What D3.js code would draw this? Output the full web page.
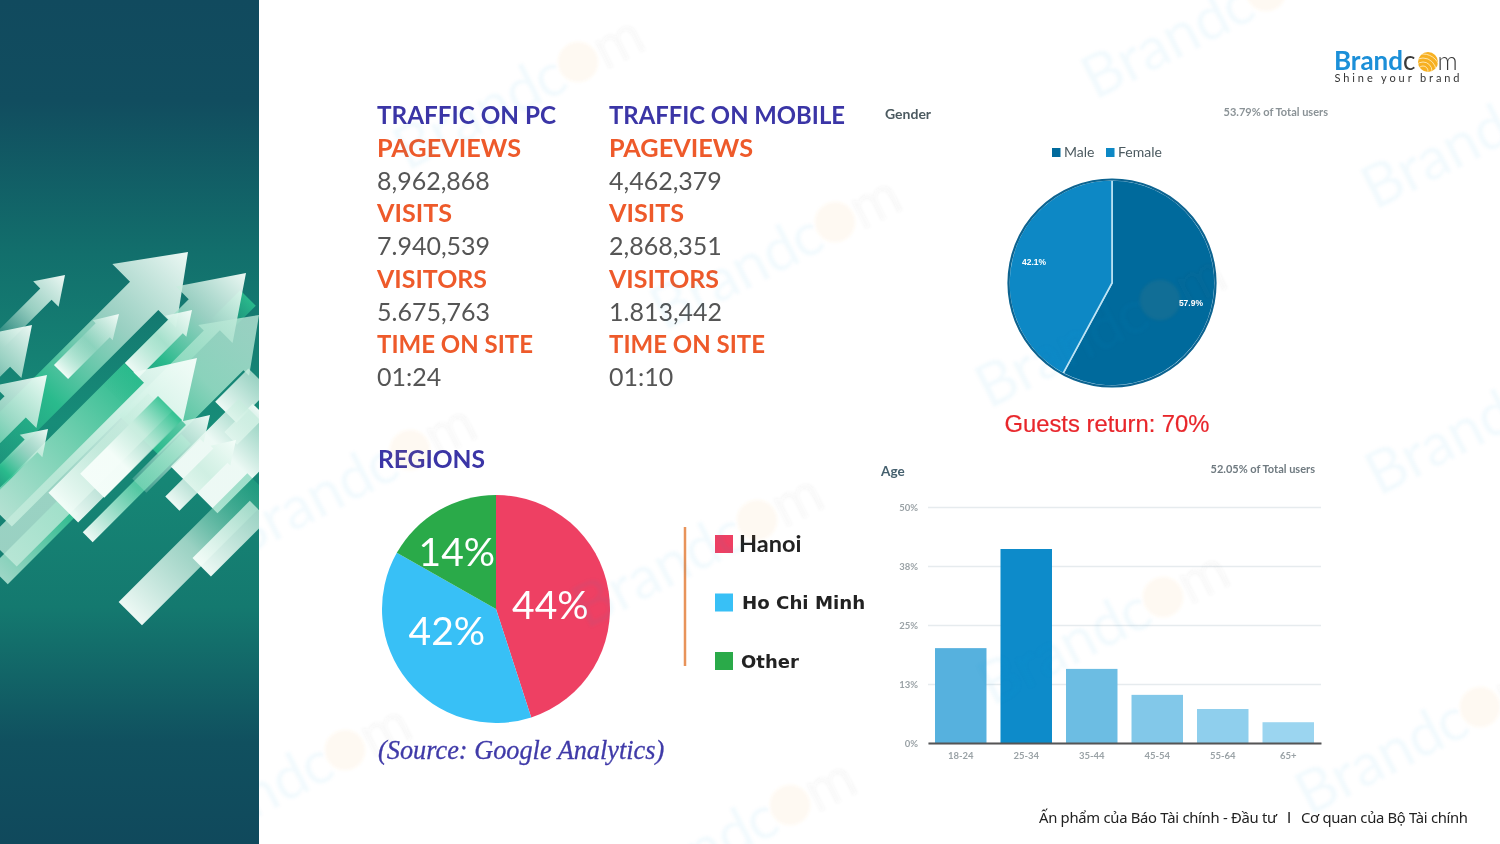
<!DOCTYPE html>
<html>
<head>
<meta charset="utf-8">
<script src="https://cdn.jsdelivr.net/npm/d3@7"></script>
<style>
  html, body { margin: 0; padding: 0; background: #fff; }
  svg { display: block; }
</style>
</head>
<body>
<div id="chart"></div>
<script>
// traffic table
var trafficTitles = ["TRAFFIC ON PC", "TRAFFIC ON MOBILE"]
var trafficLabels = ["PAGEVIEWS", "VISITS", "VISITORS", "TIME ON SITE"]
var trafficPc = ["8,962,868", "7.940,539", "5.675,763", "01:24"]
var trafficMobile = ["4,462,379", "2,868,351", "1.813,442", "01:10"]

// regions pie: the slices as drawn are not quite what their labels say
var regionNames = ["Hanoi", "Ho Chi Minh", "Other"]
var regionShares = [45, 38.2, 16.8]
var regionLabels = ["44%", "42%", "14%"]
var regionColors = ["#ee4064", "#38c0f6", "#2aaa4a"]

// gender pie
var genderNames = ["Male", "Female"]
var genderValues = [57.9, 42.1]
var genderColors = ["#066a9c", "#0b88c5"]

// age bars
var ageLabels = ["18-24", "25-34", "35-44", "45-54", "55-64", "65+"]
var ageValues = [20.1, 41.1, 15.7, 10.2, 7.2, 4.4]
var ageColors = ["#57b1de", "#0a8bca", "#6cbde3", "#82c8e9", "#8fcfed", "#9bd5f0"]
var ageTicks = [0, 12.5, 25, 37.5, 50]
var ageTickLabels = ["0%", "13%", "25%", "38%", "50%"]

var width = 1500
var height = 844

var svg = d3.select("#chart").append("svg")
    .attr("width", width)
    .attr("height", height)
    .attr("viewBox", "0 0 " + width + " " + height)

var defs = svg.append("defs")

defs.append("filter").attr("id", "soft")
    .attr("x", "-5%").attr("y", "-5%").attr("width", "110%").attr("height", "110%")
    .append("feGaussianBlur").attr("stdDeviation", 0.45)

defs.append("filter").attr("id", "softer")
    .attr("x", "-5%").attr("y", "-20%").attr("width", "110%").attr("height", "140%")
    .append("feGaussianBlur").attr("stdDeviation", 0.6)

defs.append("filter").attr("id", "markBlur")
    .attr("filterUnits", "userSpaceOnUse")
    .attr("x", 0).attr("y", 0).attr("width", width).attr("height", height)
    .append("feGaussianBlur").attr("stdDeviation", 1.6)

// ---------- table text ----------
var table = svg.append("g").attr("filter", "url(#soft)")
var headFont = "Lato, 'Open Sans', sans-serif"

// widths of the headings in the picture, their face is a bit different from Lato
var headWidths = {
    "TRAFFIC ON PC": 179, "TRAFFIC ON MOBILE": 236, "PAGEVIEWS": 144, "VISITS": 75,
    "VISITORS": 110, "TIME ON SITE": 156, "REGIONS": 107
}

function heading(parent, x, y, label, color) {
    parent.append("text").attr("x", x).attr("y", y)
        .attr("font-family", headFont).attr("font-weight", 700).attr("font-size", 24.5)
        .attr("textLength", headWidths[label]).attr("lengthAdjust", "spacingAndGlyphs")
        .attr("fill", color).text(label)
}

function drawColumn(x, title, values) {
    var rowY = 124
    var step = 32.75
    heading(table, x, rowY, title, "#3a35a6")
    trafficLabels.forEach(function (label, i) {
        heading(table, x, rowY + step * (2 * i + 1), label, "#ee5a2c")
        table.append("text").attr("x", x).attr("y", rowY + step * (2 * i + 2))
            .attr("font-family", headFont).attr("font-size", 25)
            .attr("fill", "#555").text(values[i])
    })
}
drawColumn(377, trafficTitles[0], trafficPc)
drawColumn(609, trafficTitles[1], trafficMobile)

// ---------- regions ----------
var regions = svg.append("g").attr("filter", "url(#soft)")

heading(regions, 378, 468, "REGIONS", "#3a35a6")

var pie = d3.pie().sort(null).value(function (d) { return d })

var regionArc = d3.arc().innerRadius(0).outerRadius(114)
var regionPie = regions.append("g").attr("transform", "translate(496,609)")
var regionLabelOffset = [[-2, 5], [-5, -14], [-10.5, -8]]

regionPie.selectAll("path").data(pie(regionShares)).enter().append("path")
    .attr("d", regionArc)
    .attr("fill", function (d, i) { return regionColors[i] })

regionPie.selectAll("text").data(pie(regionShares)).enter().append("text")
    .attr("transform", function (d, i) {
        var c = regionArc.centroid(d)
        return "translate(" + (c[0] + regionLabelOffset[i][0]) + "," + (c[1] + regionLabelOffset[i][1]) + ")"
    })
    .attr("text-anchor", "middle")
    .attr("dy", "0.36em")
    .attr("font-family", "Lato, sans-serif")
    .attr("font-size", 39)
    .attr("fill", "#fff")
    .text(function (d, i) { return regionLabels[i] })

regions.append("line").attr("x1", 685).attr("x2", 685).attr("y1", 527).attr("y2", 666)
    .attr("stroke", "#e8935a").attr("stroke-width", 2.5)

var regionLegendY = d3.scalePoint().domain(regionNames).range([535, 652])
var regionLegendText = [
    { x: 739, dy: 17, font: "Lato, sans-serif", size: 23.5, weight: 700 },
    { x: 742, dy: 15, font: "'DejaVu Sans', sans-serif", size: 18.2, weight: 700 },
    { x: 741, dy: 16, font: "'DejaVu Sans', sans-serif", size: 18, weight: 700 }
]

regions.selectAll("rect.sw").data(regionNames).enter().append("rect")
    .attr("class", "sw")
    .attr("x", 715).attr("y", function (d) { return regionLegendY(d) })
    .attr("width", 18).attr("height", 18)
    .attr("fill", function (d, i) { return regionColors[i] })

regions.selectAll("text.lg").data(regionNames).enter().append("text")
    .attr("class", "lg")
    .attr("x", function (d, i) { return regionLegendText[i].x })
    .attr("y", function (d, i) { return regionLegendY(d) + regionLegendText[i].dy })
    .attr("font-family", function (d, i) { return regionLegendText[i].font })
    .attr("font-size", function (d, i) { return regionLegendText[i].size })
    .attr("font-weight", function (d, i) { return regionLegendText[i].weight })
    .attr("fill", "#222")
    .text(function (d) { return d })

regions.append("text").attr("x", 378).attr("y", 759)
    .attr("font-family", "'Liberation Serif', serif")
    .attr("font-style", "italic").attr("font-size", 26.3)
    .attr("stroke", "#3f3aa8").attr("stroke-width", 0.3)
    .attr("fill", "#3f3aa8").text("(Source: Google Analytics)")

// ---------- gender ----------
var gender = svg.append("g").attr("filter", "url(#soft)")

gender.append("text").attr("x", 885).attr("y", 119)
    .attr("font-family", headFont).attr("font-weight", 700).attr("font-size", 14)
    .attr("fill", "#4c5a60").text("Gender")
svg.append("text").attr("x", 1328).attr("y", 116).attr("text-anchor", "end")
    .attr("filter", "url(#softer)")
    .attr("font-family", headFont).attr("font-weight", 700).attr("font-size", 11)
    .attr("fill", "#8a9296").text("53.79% of Total users")

var genderLegendX = d3.scaleOrdinal().domain(genderNames).range([1052, 1106])
gender.selectAll("rect.sw").data(genderNames).enter().append("rect")
    .attr("class", "sw")
    .attr("x", function (d) { return genderLegendX(d) })
    .attr("y", 148).attr("width", 8.5).attr("height", 9)
    .attr("fill", function (d, i) { return genderColors[i] })
gender.selectAll("text.lg").data(genderNames).enter().append("text")
    .attr("class", "lg")
    .attr("x", function (d) { return genderLegendX(d) + 12 })
    .attr("y", 157)
    .attr("font-family", headFont).attr("font-size", 14)
    .attr("fill", "#4c5a60").text(function (d) { return d })

var genderArc = d3.arc().innerRadius(0).outerRadius(103)
var genderPie = gender.append("g").attr("transform", "translate(1112,283)")
var genderLabelOffset = [[29, 7], [-28, -8]]

genderPie.selectAll("path").data(pie(genderValues)).enter().append("path")
    .attr("d", genderArc)
    .attr("fill", function (d, i) { return genderColors[i] })
    .attr("stroke", "#bfe4f4")
    .attr("stroke-width", 1.6)

// dark rim over the light slice borders
genderPie.append("circle").attr("r", 103.5)
    .attr("fill", "none").attr("stroke", "#0a6390").attr("stroke-width", 2.2)

genderPie.selectAll("text").data(pie(genderValues)).enter().append("text")
    .attr("transform", function (d, i) {
        var c = genderArc.centroid(d)
        return "translate(" + (c[0] + genderLabelOffset[i][0]) + "," + (c[1] + genderLabelOffset[i][1]) + ")"
    })
    .attr("text-anchor", "middle").attr("dy", "0.36em")
    .attr("font-family", "'Liberation Sans', sans-serif")
    .attr("font-weight", 700).attr("font-size", 8.5)
    .attr("fill", "#fff")
    .text(function (d) { return d.data.toFixed(1) + "%" })

svg.append("text").attr("x", 1107).attr("y", 432).attr("text-anchor", "middle")
    .attr("filter", "url(#soft)")
    .attr("font-family", "'Liberation Sans', sans-serif").attr("font-size", 23.8)
    .attr("stroke", "#e8262c").attr("stroke-width", 0.2)
    .attr("fill", "#e8262c").text("Guests return: 70%")

// ---------- age ----------
var age = svg.append("g").attr("filter", "url(#soft)")

age.append("text").attr("x", 881).attr("y", 476)
    .attr("font-family", headFont).attr("font-weight", 700).attr("font-size", 13.5)
    .attr("fill", "#45606e").text("Age")
svg.append("text").attr("x", 1315).attr("y", 473).attr("text-anchor", "end")
    .attr("filter", "url(#softer)")
    .attr("font-family", headFont).attr("font-weight", 700).attr("font-size", 11)
    .attr("fill", "#6f7a80").text("52.05% of Total users")

var xScale = d3.scaleBand().domain(ageLabels).range([928, 1321])
    .paddingInner(0.214).paddingOuter(0.107)
var yScale = d3.scaleLinear().domain([0, 50]).range([743, 507])

var yAxis = d3.axisLeft(yScale)
    .tickValues(ageTicks)
    .tickSize(-(1321 - 928))
    .tickPadding(10)
    .tickFormat(function (d, i) { return ageTickLabels[i] })

var yG = age.append("g").attr("transform", "translate(928,0)").call(yAxis)
yG.select(".domain").remove()
yG.selectAll("line").attr("stroke", "#e6ebee").attr("stroke-width", 1.5)
yG.selectAll("text").attr("font-family", headFont).attr("font-weight", 700)
    .attr("font-size", 9.5).attr("fill", "#9aa2a6")

age.selectAll("rect.bar").data(ageValues).enter().append("rect")
    .attr("class", "bar")
    .attr("x", function (d, i) { return xScale(ageLabels[i]) })
    .attr("y", function (d) { return yScale(d) })
    .attr("width", xScale.bandwidth())
    .attr("height", function (d) { return yScale(0) - yScale(d) })
    .attr("fill", function (d, i) { return ageColors[i] })

var xAxis = d3.axisBottom(xScale).tickSize(0).tickPadding(9)
var xG = age.append("g").attr("transform", "translate(0,743)").call(xAxis)
xG.select(".domain").attr("stroke", "#555").attr("stroke-width", 1.8)
xG.selectAll("text").attr("font-family", headFont).attr("font-weight", 700)
    .attr("font-size", 9.5).attr("fill", "#9aa2a6")

// ---------- watermarks, they sit faintly over everything ----------
// centre of the orange "o" of each mark
var markCentres = [[578, 62], [835, 222], [410, 450], [757, 520], [1160, 300], [1163, 597],
    [345, 750], [790, 805], [1266, -9], [1546, 101], [1550, 387], [1480, 707]]

var marks = svg.append("g").attr("filter", "url(#markBlur)")
markCentres.forEach(function (p) {
    var g = marks.append("g").attr("transform", "translate(" + p[0] + "," + p[1] + ") rotate(-27)")
    var t = g.append("text").attr("y", 20)
        .attr("font-family", "Lato, sans-serif").attr("font-size", 60)
    t.append("tspan").attr("x", -202).attr("fill", "#2f9fdc").attr("fill-opacity", 0.05).text("Brand")
    t.append("tspan").attr("x", -47).attr("fill", "#2f9fdc").attr("fill-opacity", 0.05).text("c")
    t.append("tspan").attr("x", -16).attr("fill", "#f7a823").attr("fill-opacity", 0.0).text("o")
    t.append("tspan").attr("x", 20).attr("fill", "#555").attr("fill-opacity", 0.035).text("m")
    g.append("circle").attr("r", 20).attr("fill", "#f7b040").attr("fill-opacity", 0.07)
})

// ---------- left panel with arrows ----------
var panelGrad = defs.append("linearGradient").attr("id", "panelGrad")
    .attr("x1", 0).attr("x2", 0).attr("y1", 0).attr("y2", 1)
panelGrad.selectAll("stop")
    .data([["0", "#114a5e"], ["0.12", "#114d5f"], ["0.3", "#126f6c"], ["0.5", "#178c78"], ["0.72", "#14796f"], ["0.88", "#10505f"], ["1", "#10495c"]])
    .enter().append("stop")
    .attr("offset", function (d) { return d[0] })
    .attr("stop-color", function (d) { return d[1] })

defs.append("clipPath").attr("id", "panelClip")
    .append("rect").attr("width", 259).attr("height", height)

var panel = svg.append("g").attr("clip-path", "url(#panelClip)")
panel.append("rect").attr("width", 259).attr("height", height).attr("fill", "url(#panelGrad)")

var white = ["#f6fefa", 0.96]
var pale = ["#c6ecdd", 0.75]
var paleLow = ["#c6ecdd", 0.25]
var green = ["#2cc08f", 0.9]
var greenLow = ["#2cb88c", 0.1]
var none = ["#d2f2e4", 0]

// decoration, back to front: tip x, tip y, head length, head half width, shaft half width, total length, stops tip to tail
var backArrows = [
    [65, 275, 27, 18, 8, 95, [white, pale, none]],
    [188, 252, 62, 45, 20, 300, [white, pale, green, greenLow]],
    [246, 273, 59, 40, 22, 180, [white, pale, green, greenLow]],
    [259, 315, 50, 36, 28, 170, [pale, ["#9fe0c8", 0.85], green]],
    [119, 314, 23, 14, 10, 82, [white, paleLow, white]],
    [192, 310, 23, 15, 10, 85, [white, pale, white]],
    [32, 325, 45, 30, 14, 90, [white, pale, paleLow]],
    [47, 375, 45, 30, 15, 110, [white, pale, green]],
    [48, 429, 24, 16, 9, 90, [white, pale, green, greenLow]]
]
// decoration, back to front: top x, top y, half width, length, stops top to bottom
var backStrips = [
    [248, 298, 11, 40, [green, greenLow]],
    [137, 376, 18, 195, [green, ["#7fd8b8", 0.9], ["#c6ecdd", 0.9]]],
    [70, 505, 12, 100, [green, ["#b5e6d5", 0.85]]],
    [259, 410, 9, 40, [white, pale]]
]
var bigArrow = [197, 358, 55, 35, 20, 275, [white, ["#e4f8f0", 0.85], pale, pale]]
var frontStrips = [
    [163, 408, 21, 141, [paleLow, pale, white]],
    [186, 439, 7, 139, [green, ["#5ccfa8", 0.9], white]],
    [170, 408, 17, 110, [green, pale, white, white]],
    [259, 379, 15, 47, [pale, white]],
    [262, 422, 33, 96, [pale, white, white]],
    [259, 485, 16.5, 182, [["#2cb88c", 0.4], pale, white]],
    [259, 510, 13, 81, [pale, white]]
]
var frontArrows = [
    [210, 415, 24, 15, 10, 100, [white, pale, paleLow]],
    [236, 440, 22, 14, 10, 90, [white, pale, white]]
]

var dirX = Math.SQRT1_2
var dirY = -Math.SQRT1_2
var toPath = d3.line()
var gradCount = 0

function fade(x1, y1, x2, y2, stops) {
    var id = "fade" + gradCount++
    var g = defs.append("linearGradient").attr("id", id)
        .attr("gradientUnits", "userSpaceOnUse")
        .attr("x1", x1).attr("y1", y1).attr("x2", x2).attr("y2", y2)
    stops.forEach(function (s, i) {
        g.append("stop").attr("offset", i / (stops.length - 1))
            .attr("stop-color", s[0]).attr("stop-opacity", s[1])
    })
    return "url(#" + id + ")"
}

function drawStrip(s) {
    var nx = -dirY * s[2], ny = dirX * s[2]
    var ex = s[0] - dirX * s[3], ey = s[1] - dirY * s[3]
    panel.append("path")
        .attr("d", toPath([[s[0] - nx, s[1] - ny], [s[0] + nx, s[1] + ny], [ex + nx, ey + ny], [ex - nx, ey - ny]]) + "Z")
        .attr("fill", fade(s[0], s[1], ex, ey, s[4]))
}

function drawArrow(a) {
    var x = a[0], y = a[1], hl = a[2], hh = a[3], sh = a[4], len = a[5]
    var at = function (along, side) {
        return [x - dirX * along - dirY * side, y - dirY * along + dirX * side]
    }
    var tail = at(len, 0)
    panel.append("path")
        .attr("d", toPath([at(0, 0), at(hl, hh), at(hl, sh), at(len, sh), at(len, -sh), at(hl, -sh), at(hl, -hh)]) + "Z")
        .attr("fill", fade(x, y, tail[0], tail[1], a[6]))
}

backStrips.forEach(drawStrip)
backArrows.forEach(drawArrow)
drawArrow(bigArrow)
frontStrips.forEach(drawStrip)
frontArrows.forEach(drawArrow)

// ---------- logo ----------
var logo = svg.append("g").attr("filter", "url(#soft)")
var logoText = logo.append("text").attr("y", 70)
    .attr("font-family", "Lato, sans-serif").attr("font-size", 26)
logoText.append("tspan").attr("x", 1334).attr("font-weight", 700).attr("fill", "#1a8fd8").text("Brand")
logoText.append("tspan").attr("x", 1403).attr("font-weight", 400).attr("fill", "#3a3a3a").text("c")
logoText.append("tspan").attr("x", 1421).attr("fill", "#f7b021").text("o")
logoText.append("tspan").attr("x", 1437.5).attr("font-weight", 300).attr("fill", "#3a3a3a").attr("font-size", 25).text("m")

defs.append("clipPath").attr("id", "logoDisc")
    .append("circle").attr("cx", 1428).attr("cy", 62).attr("r", 10)
logo.append("circle").attr("cx", 1428).attr("cy", 62).attr("r", 10).attr("fill", "#f7b021")
logo.append("g").attr("clip-path", "url(#logoDisc)")
    .selectAll("circle").data([5, 9, 13, 17]).enter().append("circle")
    .attr("cx", 1423).attr("cy", 71).attr("r", function (d) { return d })
    .attr("fill", "none").attr("stroke", "#fff3d0").attr("stroke-width", 0.8)

logo.append("text").attr("x", 1334.5).attr("y", 82)
    .attr("font-family", "Lato, sans-serif").attr("font-size", 11)
    .attr("letter-spacing", 2.9).attr("fill", "#333").text("Shine your brand")

// ---------- footer ----------
var footer = [
    { x: 1039, w: 238, font: "'Noto Sans', sans-serif", text: "\u1ea4n ph\u1ea9m c\u1ee7a B\u00e1o T\u00e0i ch\u00ednh - \u0110\u1ea7u t\u01b0" },
    { x: 1287, w: 2, font: "Lato, sans-serif", text: "I" },
    { x: 1301, w: 167, font: "'Noto Sans', sans-serif", text: "C\u01a1 quan c\u1ee7a B\u1ed9 T\u00e0i ch\u00ednh" }
]
svg.selectAll("text.foot").data(footer).enter().append("text")
    .attr("class", "foot")
    .attr("x", function (d) { return d.x })
    .attr("y", 823)
    .attr("font-family", function (d) { return d.font })
    .attr("font-size", 14.8)
    .attr("textLength", function (d) { return d.w })
    .attr("lengthAdjust", "spacing")
    .attr("fill", "#222")
    .text(function (d) { return d.text })
</script>
</body>
</html>
